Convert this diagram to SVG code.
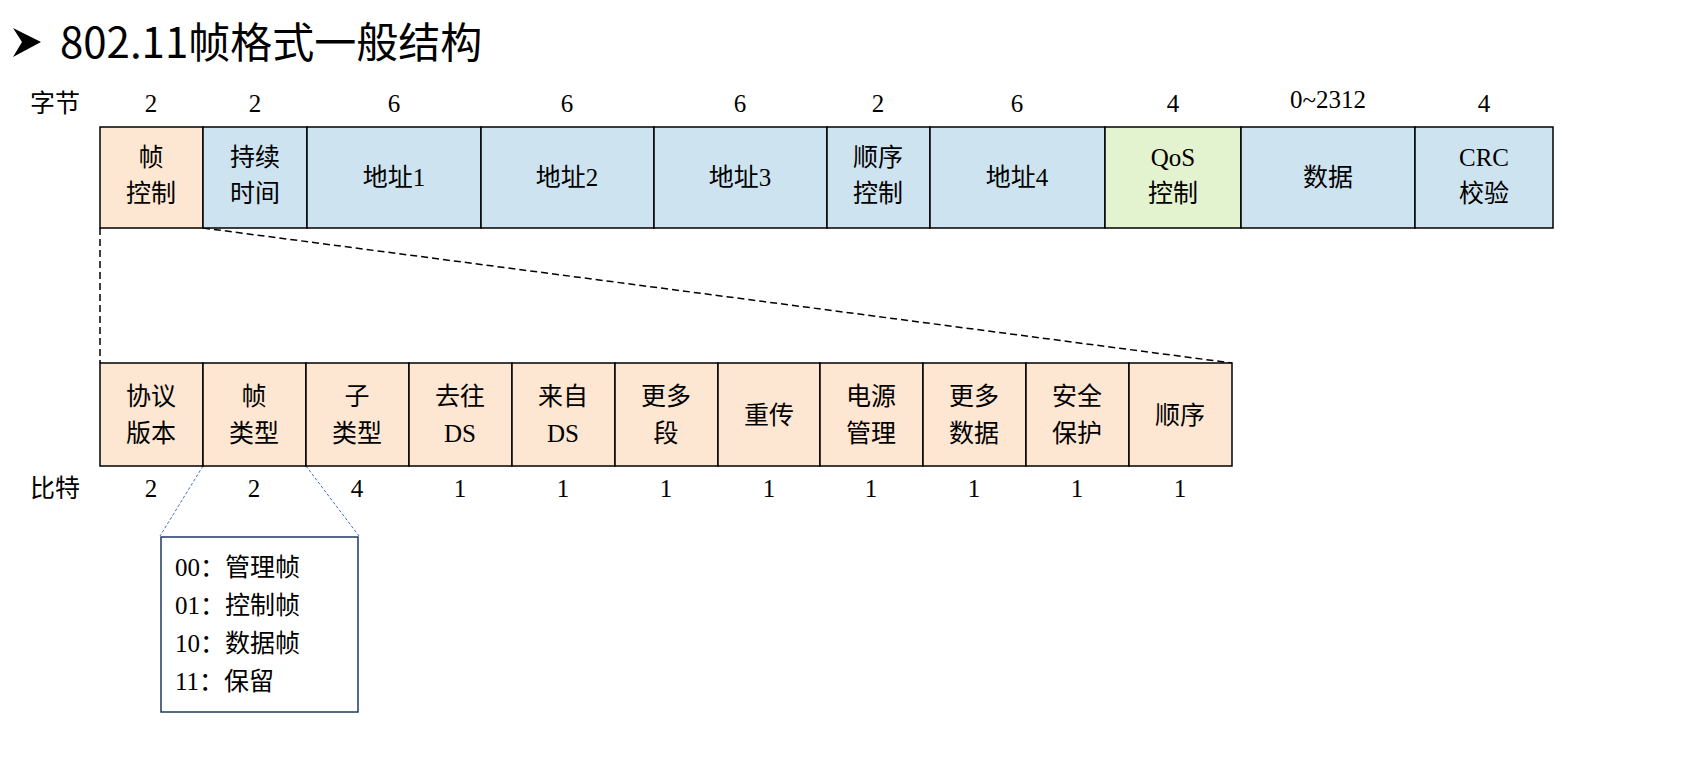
<svg xmlns="http://www.w3.org/2000/svg" width="1690" height="773" viewBox="0 0 1690 773">
<style>
.t{font-family:"Liberation Serif","Noto Sans CJK SC",serif;font-size:25px;fill:#000;text-anchor:middle}
.o{fill:#fde6d2;stroke:#000;stroke-width:1.5}
.b{fill:#cde3ef;stroke:#000;stroke-width:1.5}
.g{fill:#e3f2cf;stroke:#000;stroke-width:1.5}
</style>
<rect width="1690" height="773" fill="#fff"/>
<polygon points="13,28 41,42 13,57 22,42" fill="#000"/>
<text x="60" y="58" font-family="Noto Sans CJK SC, sans-serif" font-size="42" fill="#000">802.11帧格式一般结构</text>
<g id="labels">
<text class="t" x="55" y="112">字节</text>
<text class="t" x="55" y="497">比特</text>
</g>
<g id="connectors" fill="none">
<line x1="100" y1="228" x2="100" y2="363" stroke="#000" stroke-width="1.5" stroke-dasharray="7,4"/>
<line x1="203" y1="228" x2="1232" y2="363" stroke="#000" stroke-width="1.5" stroke-dasharray="7,4"/>
<line x1="203" y1="466" x2="160" y2="536" stroke="#4472c4" stroke-width="1" stroke-dasharray="3,2"/>
<line x1="306" y1="466" x2="359" y2="536" stroke="#4472c4" stroke-width="1" stroke-dasharray="3,2"/>
</g>
<g id="top">
<g id="n-fc"><rect class="o" x="100" y="127" width="103" height="101"/><text class="t" x="151" y="112">2</text><text class="t" x="151" y="166">帧</text><text class="t" x="151" y="202">控制</text></g>
<g id="n-dur"><rect class="b" x="203" y="127" width="104" height="101"/><text class="t" x="255" y="112">2</text><text class="t" x="255" y="166">持续</text><text class="t" x="255" y="202">时间</text></g>
<g id="n-a1"><rect class="b" x="307" y="127" width="174" height="101"/><text class="t" x="394" y="112">6</text><text class="t" x="394" y="186">地址1</text></g>
<g id="n-a2"><rect class="b" x="481" y="127" width="173" height="101"/><text class="t" x="567" y="112">6</text><text class="t" x="567" y="186">地址2</text></g>
<g id="n-a3"><rect class="b" x="654" y="127" width="173" height="101"/><text class="t" x="740" y="112">6</text><text class="t" x="740" y="186">地址3</text></g>
<g id="n-seq"><rect class="b" x="827" y="127" width="103" height="101"/><text class="t" x="878" y="112">2</text><text class="t" x="878" y="166">顺序</text><text class="t" x="878" y="202">控制</text></g>
<g id="n-a4"><rect class="b" x="930" y="127" width="175" height="101"/><text class="t" x="1017" y="112">6</text><text class="t" x="1017" y="186">地址4</text></g>
<g id="n-qos"><rect class="g" x="1105" y="127" width="136" height="101"/><text class="t" x="1173" y="112">4</text><text class="t" x="1173" y="166">QoS</text><text class="t" x="1173" y="202">控制</text></g>
<g id="n-data"><rect class="b" x="1241" y="127" width="174" height="101"/><text class="t" x="1328" y="108">0~2312</text><text class="t" x="1328" y="186">数据</text></g>
<g id="n-crc"><rect class="b" x="1415" y="127" width="138" height="101"/><text class="t" x="1484" y="112">4</text><text class="t" x="1484" y="166">CRC</text><text class="t" x="1484" y="202">校验</text></g>
</g>
<g id="bottom">
<g id="b1"><rect class="o" x="100" y="363" width="103" height="103"/><text class="t" x="151" y="405">协议</text><text class="t" x="151" y="442">版本</text><text class="t" x="151" y="497">2</text></g>
<g id="b2"><rect class="o" x="203" y="363" width="103" height="103"/><text class="t" x="254" y="405">帧</text><text class="t" x="254" y="442">类型</text><text class="t" x="254" y="497">2</text></g>
<g id="b3"><rect class="o" x="306" y="363" width="103" height="103"/><text class="t" x="357" y="405">子</text><text class="t" x="357" y="442">类型</text><text class="t" x="357" y="497">4</text></g>
<g id="b4"><rect class="o" x="409" y="363" width="103" height="103"/><text class="t" x="460" y="405">去往</text><text class="t" x="460" y="442">DS</text><text class="t" x="460" y="497">1</text></g>
<g id="b5"><rect class="o" x="512" y="363" width="103" height="103"/><text class="t" x="563" y="405">来自</text><text class="t" x="563" y="442">DS</text><text class="t" x="563" y="497">1</text></g>
<g id="b6"><rect class="o" x="615" y="363" width="103" height="103"/><text class="t" x="666" y="405">更多</text><text class="t" x="666" y="442">段</text><text class="t" x="666" y="497">1</text></g>
<g id="b7"><rect class="o" x="718" y="363" width="102" height="103"/><text class="t" x="769" y="424">重传</text><text class="t" x="769" y="497">1</text></g>
<g id="b8"><rect class="o" x="820" y="363" width="103" height="103"/><text class="t" x="871" y="405">电源</text><text class="t" x="871" y="442">管理</text><text class="t" x="871" y="497">1</text></g>
<g id="b9"><rect class="o" x="923" y="363" width="103" height="103"/><text class="t" x="974" y="405">更多</text><text class="t" x="974" y="442">数据</text><text class="t" x="974" y="497">1</text></g>
<g id="b10"><rect class="o" x="1026" y="363" width="103" height="103"/><text class="t" x="1077" y="405">安全</text><text class="t" x="1077" y="442">保护</text><text class="t" x="1077" y="497">1</text></g>
<g id="b11"><rect class="o" x="1129" y="363" width="103" height="103"/><text class="t" x="1180" y="424">顺序</text><text class="t" x="1180" y="497">1</text></g>
</g>
<g id="callout">
<rect x="161" y="537" width="197" height="175" fill="#fff" stroke="#203864" stroke-width="1.5"/>
<g font-family="Liberation Serif, Noto Sans CJK SC, serif" font-size="25" fill="#000">
<text x="175" y="576">00：管理帧</text>
<text x="175" y="614">01：控制帧</text>
<text x="175" y="652">10：数据帧</text>
<text x="175" y="690">11：保留</text>
</g>
</g>
</svg>
